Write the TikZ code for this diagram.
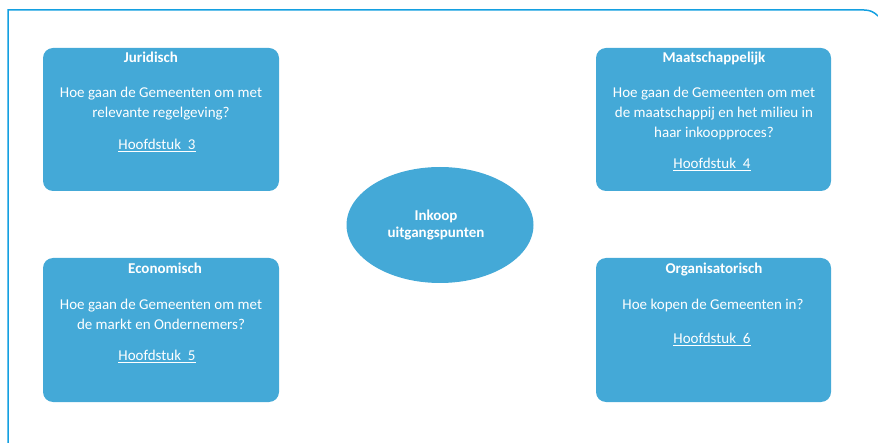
\documentclass[tikz,border=0pt]{standalone}
\usepackage{fontspec}
\setmainfont{Carlito}
\usetikzlibrary{shapes.geometric}
\definecolor{boxblue}{RGB}{68,169,215}
\definecolor{frameblue}{RGB}{20,160,225}
\tikzset{
  x=1pt,y=-1pt,
  card/.style={fill=boxblue,rounded corners=10pt,draw=none},
  ttl/.style={text=white,font=\fontsize{15}{17}\selectfont\bfseries,inner sep=0pt,anchor=base},
  txt/.style={text=white,font=\fontsize{15}{17}\selectfont,inner sep=0pt,anchor=base},
}
\newcommand{\hlink}[1]{\underline{#1}}
\begin{document}
\begin{tikzpicture}
\useasboundingbox (0,0) rectangle (878,443);
% frame
\draw[frameblue,line width=1.5pt] (8,443) -- (8,10) -- (864,10) .. controls (870,10) and (874,12) .. (878,16);
% boxes
\fill[card] (43,48) rectangle (279,191);
\fill[card] (596,48) rectangle (831,191);
\fill[card] (43,258) rectangle (279,402);
\fill[card] (596,258) rectangle (831,402);
\node[ellipse,fill=boxblue,minimum width=187pt,minimum height=116pt,inner sep=0pt] (c) at (440,225) {};
% texts juridisch
\node[ttl] (j1) at (151,63) {Juridisch};
\node[txt] (j2) at (161,98) {Hoe gaan de Gemeenten om met};
\node[txt] (j3) at (161,118) {relevante regelgeving?};
\node[txt] (j4) at (157,150) {\hlink{Hoofdstuk\ \ 3}};
% maatschappelijk
\node[ttl] (m1) at (714,63) {Maatschappelijk};
\node[txt] (m2) at (714,98) {Hoe gaan de Gemeenten om met};
\node[txt] (m3) at (714,118) {de maatschappij en het milieu in};
\node[txt] (m4) at (714,138) {haar inkoopproces?};
\node[txt] (m5) at (712,169) {\hlink{Hoofdstuk\ \ 4}};
% economisch
\node[ttl] (e1) at (165,274) {Economisch};
\node[txt] (e2) at (161,310) {Hoe gaan de Gemeenten om met};
\node[txt] (e3) at (161,330) {de markt en Ondernemers?};
\node[txt] (e4) at (157,361) {\hlink{Hoofdstuk\ \ 5}};
% organisatorisch
\node[ttl] (o1) at (714,274) {Organisatorisch};
\node[txt] (o2) at (713,310) {Hoe kopen de Gemeenten in?};
\node[txt] (o3) at (712,344) {\hlink{Hoofdstuk\ \ 6}};
% centre
\node[ttl] (c1) at (436,221) {Inkoop};
\node[ttl] (c2) at (436,238) {uitgangspunten};
\end{tikzpicture}
\end{document}
